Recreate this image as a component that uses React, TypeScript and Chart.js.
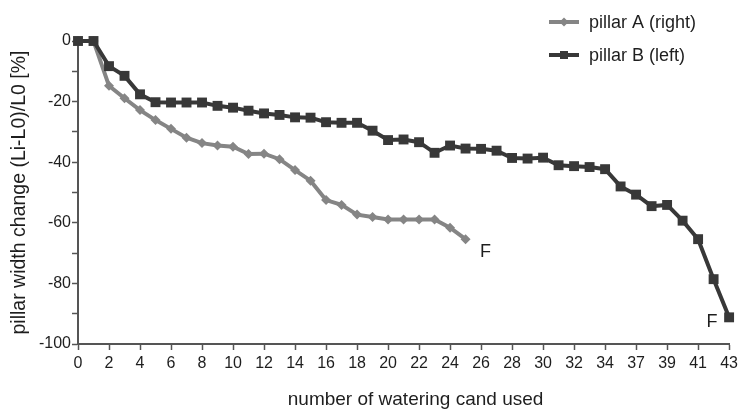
import React, { useEffect, useRef } from 'react';
import { Chart, registerables } from 'chart.js';

Chart.register(...registerables);

const categories = [
  '0', '1', '2', '3', '4', '5', '6', '7', '8', '9', '10', '11', '12', '13', '14',
  '15', '16', '17', '18', '19', '20', '21', '22', '23', '24', '25', '26', '27', '28',
  '29', '30', '31', '32', '33', '34', '35', '37', '38', '39', '40', '41', '42', '43',
];

const pillarA = [
  0, 0, -14.8, -18.9, -22.8, -26.1, -29, -31.9, -33.7, -34.5, -34.9, -37.3, -37.2,
  -39, -42.6, -46.1, -52.5, -54.1, -57.3, -58.1, -58.9, -58.9, -58.9, -58.9, -61.6, -65.4,
];

const pillarB = [
  0, 0, -8.3, -11.5, -17.6, -20.2, -20.3, -20.3, -20.3, -21.4, -22, -23, -23.9, -24.4,
  -25.2, -25.3, -26.8, -27, -27, -29.6, -32.7, -32.5, -33.4, -36.9, -34.5, -35.5, -35.6,
  -36.2, -38.6, -38.8, -38.5, -41, -41.3, -41.6, -42.3, -48, -50.7, -54.5, -54.1, -59.3,
  -65.4, -78.6, -91.2,
];

const seriesNames = ['pillar A (right)', 'pillar B (left)'];
const endLabel = 'F';
const xTitle = 'number of watering cand used';
const yTitle = 'pillar width change (Li-L0)/L0 [%]';

const FONT = '"Liberation Sans", Arial, Helvetica, sans-serif';
const COLOR_A = '#858585';
const COLOR_B = '#383838';
const AXIS = '#555555';
const TEXT = '#1e1e1e';

const annotations = {
  id: 'annotations',
  afterDatasetsDraw(chart: any) {
    const ctx = chart.ctx;
    const xs = chart.scales.x;
    const ys = chart.scales.y;
    ctx.save();
    ctx.font = `18px ${FONT}`;
    ctx.fillStyle = TEXT;
    ctx.textAlign = 'center';
    ctx.textBaseline = 'middle';
    const ia = pillarA.length - 1;
    ctx.fillText(endLabel, xs.getPixelForValue(ia) + 20, ys.getPixelForValue(pillarA[ia]) + 13);
    const ib = pillarB.length - 1;
    ctx.fillText(endLabel, xs.getPixelForValue(ib) - 17, ys.getPixelForValue(pillarB[ib]) + 5);

    // x-axis title (drawn here so it can sit slightly right of the axis centre, as in the source)
    ctx.font = `19px ${FONT}`;
    ctx.fillText(xTitle, (xs.left + xs.right) / 2 + 12, 400);

    // legend
    const colors = [COLOR_A, COLOR_B];
    for (let i = 0; i < seriesNames.length; i++) {
      const ly = 22 + i * 33;
      ctx.strokeStyle = colors[i];
      ctx.fillStyle = colors[i];
      ctx.lineWidth = 4;
      ctx.beginPath();
      ctx.moveTo(549, ly);
      ctx.lineTo(579, ly);
      ctx.stroke();
      const cx = 564;
      ctx.beginPath();
      if (i === 0) {
        ctx.moveTo(cx, ly - 4.5);
        ctx.lineTo(cx + 4.5, ly);
        ctx.lineTo(cx, ly + 4.5);
        ctx.lineTo(cx - 4.5, ly);
        ctx.closePath();
      } else {
        ctx.rect(cx - 4, ly - 4, 8, 8);
      }
      ctx.fill();
      ctx.fillStyle = TEXT;
      ctx.font = `18px ${FONT}`;
      ctx.textAlign = 'left';
      ctx.textBaseline = 'middle';
      ctx.fillText(seriesNames[i], 589, ly + 1);
    }
    ctx.restore();
  },
};

export default function App() {
  const ref = useRef<HTMLCanvasElement | null>(null);

  useEffect(() => {
    document.body.style.margin = '0';
    if (!ref.current) return;
    const chart = new Chart(ref.current, {
      type: 'line',
      data: {
        labels: categories,
        datasets: [
          {
            label: seriesNames[0],
            data: pillarA,
            borderColor: COLOR_A,
            backgroundColor: COLOR_A,
            borderWidth: 4,
            pointStyle: 'rectRot',
            pointRadius: 5,
            pointBorderWidth: 0,
            tension: 0,
            clip: false as any,
            order: 2,
          },
          {
            label: seriesNames[1],
            data: pillarB,
            borderColor: COLOR_B,
            backgroundColor: COLOR_B,
            borderWidth: 4,
            pointStyle: 'rect',
            pointRadius: 7,
            pointBorderWidth: 0,
            tension: 0,
            clip: false as any,
            order: 1,
          },
        ],
      },
      options: {
        animation: false,
        responsive: true,
        maintainAspectRatio: false,
        layout: { padding: { top: 41, right: 9, left: 0, bottom: 0 } },
        plugins: {
          legend: { display: false },
          tooltip: { enabled: false },
        },
        font: { family: FONT },
        scales: {
          x: {
            type: 'category',
            offset: false,
            afterFit(scale: any) {
              scale.height = 69;
            },
            border: { color: AXIS, width: 2 },
            grid: {
              drawOnChartArea: false,
              offset: false,
              tickLength: 6,
              tickWidth: 1.5,
              color: (c: any) => (c.index % 2 === 0 ? AXIS : 'rgba(0,0,0,0)'),
              tickColor: (c: any) => (c.index % 2 === 0 ? AXIS : 'rgba(0,0,0,0)'),
            },
            ticks: {
              autoSkip: false,
              maxRotation: 0,
              minRotation: 0,
              padding: 4,
              color: TEXT,
              font: { family: FONT, size: 16 },
              callback: (_v: any, i: number) => (i % 2 === 0 ? categories[i] : ''),
            },
            title: { display: false },
          },
          y: {
            type: 'linear',
            min: -100,
            max: 0,
            afterFit(scale: any) {
              scale.width = 78;
            },
            border: { color: AXIS, width: 2 },
            grid: {
              drawOnChartArea: false,
              tickLength: 6,
              tickWidth: 1.5,
              color: AXIS,
              tickColor: AXIS,
            },
            ticks: {
              stepSize: 10,
              padding: 1,
              color: TEXT,
              font: { family: FONT, size: 16 },
              callback: (v: any) => (Number(v) % 20 === 0 ? String(v) : ''),
            },
            title: {
              display: true,
              text: yTitle,
              color: TEXT,
              font: { family: FONT, size: 19.5 },
              padding: { top: 8, bottom: 0 },
            },
          },
        },
      },
      plugins: [annotations],
    });
    return () => chart.destroy();
  }, []);

  return (
    <div style={{ width: 742, height: 413, position: 'relative' }}>
      <canvas ref={ref} />
    </div>
  );
}
